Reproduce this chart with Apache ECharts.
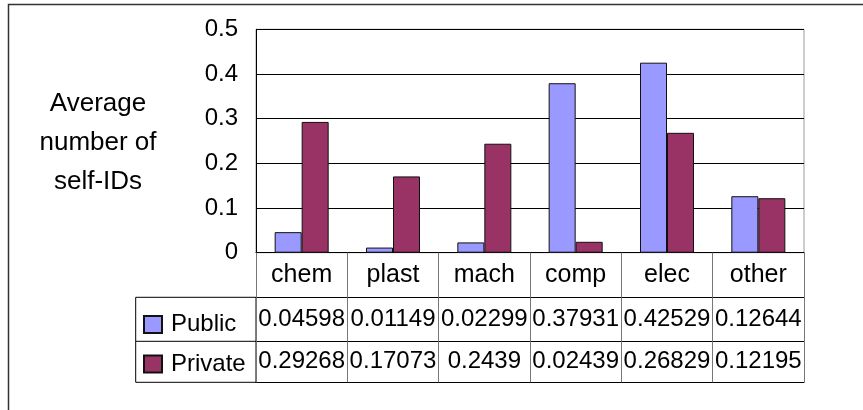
<!DOCTYPE html>
<html>
<head>
<meta charset="utf-8">
<script src="https://cdn.jsdelivr.net/npm/echarts@6/dist/echarts.min.js"></script>
<style>
  html, body { margin: 0; padding: 0; background: #fff; }
  #chart { width: 863px; height: 410px; }
</style>
</head>
<body>
<div id="chart"></div>
<script>
// Industry categories and average self-ID counts by ownership type
const categories = ['chem', 'plast', 'mach', 'comp', 'elec', 'other'];
const publicVals = [0.04598, 0.01149, 0.02299, 0.37931, 0.42529, 0.12644];
const privateVals = [0.29268, 0.17073, 0.2439, 0.02439, 0.26829, 0.12195];
const seriesNames = ['Public', 'Private'];
const yTicks = { min: 0, max: 0.5, step: 0.1 };
const yTitle = 'Average\nnumber of\nself-IDs';

const FONT = '"Liberation Sans", Arial, sans-serif';
const BLUE = '#9999FF';
const PLUM = '#993366';

// layout of the plot box and the data table beneath it
const G = { left: 256, right: 804, top: 29.3, bottom: 252.7 };
const ROW = [44.6, 44, 41];           // header row, Public row, Private row
const TABLE_LEFT = 135.7;

const chart = echarts.init(document.getElementById('chart'), null, { renderer: 'canvas' });

// one category axis per table row: its ticks become the column dividers,
// its line the row rule and its labels the cell text
function tableAxis(offset, tickLen, formatter, showLabel, fontSize) {
  return {
    type: 'category',
    data: categories,
    position: 'bottom',
    offset: offset,
    boundaryGap: true,
    axisLine: { show: true, onZero: false, lineStyle: { color: '#000', width: 1 } },
    axisTick: { show: tickLen > 0, length: tickLen, lineStyle: { color: '#777', width: 1 } },
    axisLabel: {
      show: showLabel,
      interval: 0,
      margin: tickLen / 2,
      verticalAlign: 'middle',
      color: '#000',
      fontFamily: FONT,
      fontSize: fontSize,
      formatter: formatter
    },
    splitLine: { show: false }
  };
}

const option = {
  animation: false,
  backgroundColor: '#fff',
  grid: {
    left: G.left,
    top: G.top,
    width: G.right - G.left,
    height: G.bottom - G.top,
    show: true,
    borderColor: '#9a9a9a',
    borderWidth: 1,
    backgroundColor: 'transparent'
  },
  legend: {
    orient: 'vertical',
    left: 143,
    top: 312.5,
    padding: 0,
    itemWidth: 18,
    itemHeight: 17,
    itemGap: 15.5,
    icon: 'rect',
    data: seriesNames,
    textStyle: { color: '#000', fontFamily: FONT, fontSize: 24, padding: [0, 0, 0, 4] }
  },
  xAxis: [
    tableAxis(0, ROW[0], (v) => v, true, 25),
    tableAxis(ROW[0], ROW[1], (v, i) => String(publicVals[i]), true, 24),
    tableAxis(ROW[0] + ROW[1], ROW[2], (v, i) => String(privateVals[i]), true, 24),
    tableAxis(ROW[0] + ROW[1] + ROW[2], 0, (v) => '', false, 24)
  ],
  yAxis: {
    type: 'value',
    min: yTicks.min,
    max: yTicks.max,
    interval: yTicks.step,
    axisLine: { show: true, lineStyle: { color: '#000', width: 1 } },
    axisTick: { show: true, inside: true, length: 7, lineStyle: { color: '#000' } },
    splitLine: { show: true, lineStyle: { color: '#000', width: 1 } },
    axisLabel: {
      margin: 18,
      color: '#000',
      fontFamily: FONT,
      fontSize: 24,
      formatter: (v) => String(Math.round(v * 10) / 10)
    }
  },
  series: [
    {
      name: seriesNames[0],
      type: 'bar',
      xAxisIndex: 0,
      data: publicVals,
      barWidth: 27,
      barGap: '0%',
      itemStyle: { color: BLUE, borderColor: '#111', borderWidth: 1 }
    },
    {
      name: seriesNames[1],
      type: 'bar',
      xAxisIndex: 0,
      data: privateVals,
      barWidth: 27,
      itemStyle: { color: PLUM, borderColor: '#111', borderWidth: 1 }
    }
  ],
  graphic: [
    // outer chart frame (runs off the right and bottom edges)
    {
      type: 'rect',
      shape: { x: 8.5, y: 4.5, width: 900, height: 450 },
      style: { fill: 'none', stroke: '#333', lineWidth: 1.5 },
      silent: true
    },
    // series-name column of the data table
    {
      type: 'rect',
      shape: {
        x: TABLE_LEFT,
        y: G.bottom + ROW[0],
        width: G.left - TABLE_LEFT,
        height: ROW[1] + ROW[2]
      },
      style: { fill: 'none', stroke: '#000', lineWidth: 1 },
      silent: true
    },
    {
      type: 'line',
      shape: {
        x1: TABLE_LEFT, y1: G.bottom + ROW[0] + ROW[1],
        x2: G.left, y2: G.bottom + ROW[0] + ROW[1]
      },
      style: { stroke: '#000', lineWidth: 1 },
      silent: true
    },
    // vertical axis title, centred over three lines
    {
      type: 'text',
      x: 98,
      y: 84,
      style: {
        text: yTitle,
        align: 'center',
        verticalAlign: 'top',
        fill: '#000',
        font: '26px ' + FONT,
        lineHeight: 39
      },
      silent: true
    }
  ]
};

chart.setOption(option);
</script>
</body>
</html>
